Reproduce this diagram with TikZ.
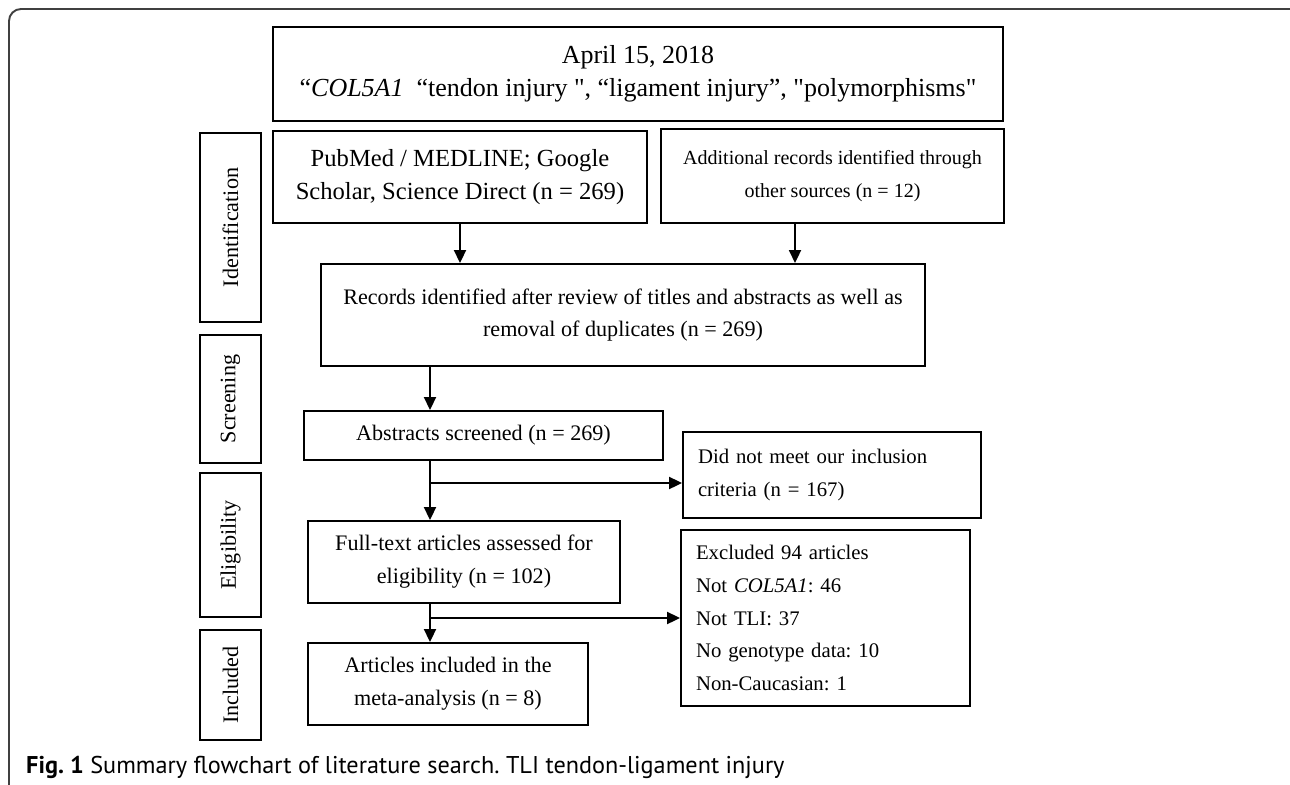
\documentclass[tikz,border=0pt]{standalone}
\usepackage{fontspec}
\setmainfont{Liberation Serif}[Ligatures=TeXOff]
\newfontfamily\capfont{PT Sans}
\usetikzlibrary{arrows.meta}
\frenchspacing
\begin{document}
\begin{tikzpicture}[x=0.02cm, y=-0.02cm,
    every node/.style={font=\fontsize{12.6}{18.7}\selectfont},
    box/.style={draw, line width=1.1pt, inner sep=0pt, align=center},
    leftbox/.style={draw, line width=1.1pt, inner xsep=0.3cm, inner ysep=0pt, align=left,
      font=\fontsize{11.8}{18.7}\selectfont},
    side/.style={draw, line width=1.1pt, inner sep=0pt, rotate=90, minimum height=1.22cm},
    arr/.style={line width=1.1pt, -{Triangle[length=0.26cm, width=0.24cm]}}]
  \useasboundingbox (0,0) rectangle (1290,784);
  \draw[line width=1.1pt, black!75, rounded corners=0.24cm] (9,800) -- (9,9) -- (1290,9);

  \node[box, minimum width=14.6cm, minimum height=1.88cm, font=\fontsize{14.8}{18.7}\selectfont] (search) at (638,74)
    {April 15, 2018\\“\textit{COL5A1}\ \ “tendon injury ", “ligament injury”, "polymorphisms"};
  \node[box, minimum width=7.48cm, minimum height=1.84cm, font=\fontsize{14}{18.7}\selectfont] (pubmed) at (460,177)
    {PubMed / MEDLINE; Google\\Scholar, Science Direct (n = 269)};
  \node[box, minimum width=6.86cm, minimum height=1.88cm, font=\fontsize{11.4}{18.7}\selectfont] (other) at (832.5,176)
    {Additional records identified through\\other sources (n = 12)};
  \node[box, minimum width=12.08cm, minimum height=2.04cm] (records) at (623,315)
    {Records identified after review of titles and abstracts as well as\\removal of duplicates (n = 269)};
  \node[box, minimum width=7.18cm, minimum height=0.98cm] (abstracts) at (483.5,435.5)
    {Abstracts screened (n = 269)};
  \node[box, minimum width=6.24cm, minimum height=1.64cm] (fulltext) at (464,562)
    {Full-text articles assessed for\\eligibility (n = 102)};
  \node[box, minimum width=5.6cm, minimum height=1.64cm] (included) at (448,684)
    {Articles included in the\\meta-analysis (n = 8)};
  \node[leftbox, text width=5.36cm, minimum height=1.72cm] (notmet) at (832,475)
    {Did not meet our inclusion\\criteria (n = 167)};
  \node[leftbox, text width=5.18cm, minimum height=3.52cm] (excluded) at (825.5,618)
    {Excluded 94 articles\\Not \textit{COL5A1}: 46\\Not TLI: 37\\No genotype data: 10\\Non-Caucasian: 1};

  \node[side, minimum width=3.78cm] (sident) at (230.5,227.5) {Identification};
  \node[side, minimum width=2.56cm] (sscreen) at (230.5,399) {Screening};
  \node[side, minimum width=2.88cm] (selig) at (230.5,545) {Eligibility};
  \node[side, minimum width=2.2cm] (sincl) at (230.5,685) {Included};

  \coordinate (trunk) at (430,0);
  \coordinate (fork1) at (430,483);
  \coordinate (fork2) at (430,618);
  \draw[arr] (pubmed.south) -- (pubmed.south |- records.north);
  \draw[arr] ([xshift=-0.75cm]other.south) -- ([xshift=-0.75cm]other.south |- records.north);
  \draw[arr] (trunk |- records.south) -- (trunk |- abstracts.north);
  \draw[arr] (trunk |- abstracts.south) -- (trunk |- fulltext.north);
  \draw[arr] (fork1) -- (fork1 -| notmet.west);
  \draw[arr] (trunk |- fulltext.south) -- (trunk |- included.north);
  \draw[arr] (fork2) -- (fork2 -| excluded.west);

  \node[anchor=base west, font=\capfont\fontsize{13.8}{16}\selectfont] (caption) at (20,773)
    {\textbf{Fig. 1} Summary flowchart of literature search. TLI tendon-ligament injury};
\end{tikzpicture}
\end{document}
